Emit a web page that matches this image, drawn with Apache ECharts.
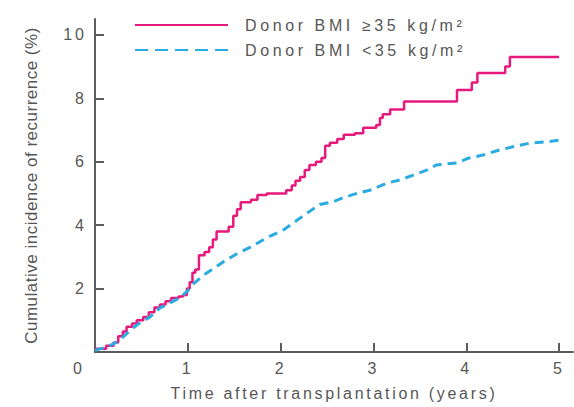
<!DOCTYPE html>
<html>
<head>
<meta charset="utf-8">
<script src="https://cdn.jsdelivr.net/npm/echarts@6/dist/echarts.min.js"></script>
<style>
  html, body { margin: 0; padding: 0; background: #ffffff; }
  #chart { width: 574px; height: 407px; }
</style>
</head>
<body>
<div id="chart"></div>
<script>
// Cumulative incidence of recurrence by donor BMI group
const seriesNames = ['Donor BMI \u226535 kg/m\u00b2', 'Donor BMI <35 kg/m\u00b2'];
const xTicks = [0, 1, 2, 3, 4, 5];
const yTicks = [2, 4, 6, 8, 10];

// Donor BMI >= 35: event times (years) and cumulative incidence (%) after each step
const highBmiTimes = [0, 0.12, 0.2, 0.25, 0.3, 0.34, 0.4, 0.45, 0.52, 0.58, 0.64, 0.7, 0.76, 0.82, 0.9, 0.95,
  0.99, 1.02, 1.05, 1.08, 1.12, 1.18, 1.23, 1.27, 1.31, 1.44, 1.49, 1.53, 1.57, 1.68, 1.75, 1.85,
  2.06, 2.12, 2.16, 2.21, 2.26, 2.31, 2.38, 2.44, 2.48, 2.53, 2.61, 2.68, 2.8, 2.89, 3.03, 3.07,
  3.1, 3.18, 3.33, 3.9, 4.06, 4.12, 4.42, 4.47, 5.0];
const highBmiValues = [0.1, 0.2, 0.3, 0.5, 0.65, 0.8, 0.9, 1.0, 1.1, 1.25, 1.4, 1.5, 1.6, 1.7, 1.75, 1.8,
  2.0, 2.2, 2.5, 2.6, 3.05, 3.15, 3.3, 3.55, 3.8, 3.95, 4.3, 4.5, 4.72, 4.8, 4.95, 5.0,
  5.1, 5.25, 5.4, 5.52, 5.74, 5.9, 6.0, 6.12, 6.5, 6.6, 6.72, 6.85, 6.9, 7.07, 7.16, 7.38,
  7.5, 7.65, 7.9, 8.26, 8.5, 8.8, 9.0, 9.3, 9.3];

// Donor BMI < 35
const lowBmiTimes = [0, 0.13, 0.24, 0.3, 0.38, 0.48, 0.59, 0.7, 0.81, 0.92, 0.99, 1.06, 1.16, 1.38, 1.53,
  1.67, 1.85, 2.03, 2.18, 2.32, 2.42, 2.56, 2.67, 2.82, 2.96, 3.15, 3.29, 3.43, 3.58, 3.68, 3.9,
  4.01, 4.18, 4.36, 4.5, 4.69, 4.87, 5.01];
const lowBmiValues = [0.05, 0.16, 0.32, 0.47, 0.69, 0.91, 1.1, 1.39, 1.55, 1.72, 1.9, 2.15, 2.4, 2.84, 3.1,
  3.3, 3.6, 3.85, 4.16, 4.45, 4.65, 4.73, 4.86, 5.0, 5.1, 5.33, 5.43, 5.58, 5.74, 5.9, 5.96,
  6.1, 6.21, 6.37, 6.47, 6.59, 6.63, 6.68];

const pink = '#e8197d';
const blue = '#2aace2';
const axisColor = '#5c5c5c';
const textColor = '#575757';
const fontFamily = '"Liberation Sans", Arial, sans-serif';

const pairs = (xs, ys) => xs.map((x, i) => [x, ys[i]]);

const chart = echarts.init(document.getElementById('chart'), null, { renderer: 'svg' });

chart.setOption({
  animation: false,
  grid: { left: 95, right: 1, top: 19, bottom: 55 },
  legend: {
    orient: 'vertical',
    left: 129,
    top: 12,
    itemWidth: 93,
    itemHeight: 14,
    itemGap: 9,
    selectedMode: false,
    data: [
      { name: seriesNames[0] },
      { name: seriesNames[1], lineStyle: { type: [13, 7] } }
    ],
    itemStyle: { opacity: 0 },
    formatter: name => '{t|' + name + '}',
    textStyle: {
      color: textColor,
      fontFamily: fontFamily,
      fontSize: 16,
      rich: { t: { color: textColor, fontFamily: fontFamily, fontSize: 16, padding: [0, 0, 0, 12] } }
    }
  },
  xAxis: {
    type: 'value',
    min: 0,
    max: 5.15,
    splitLine: { show: false },
    axisLine: { show: true, lineStyle: { color: axisColor, width: 2 } },
    axisTick: { show: true, inside: true, length: 9, customValues: [1, 2, 3, 4, 5],
      lineStyle: { color: axisColor, width: 2 } },
    axisLabel: {
      customValues: xTicks,
      margin: 8,
      color: textColor,
      fontFamily: fontFamily,
      fontSize: 16,
      formatter: v => (v === 0 ? '{z|0}' : String(v)),
      rich: { z: { color: textColor, fontFamily: fontFamily, fontSize: 16, padding: [0, 32, 0, 0] } }
    },
    name: 'Time after transplantation (years)',
    nameLocation: 'middle',
    nameGap: 33,
    nameTextStyle: { color: textColor, fontFamily: fontFamily, fontSize: 16 }
  },
  yAxis: {
    type: 'value',
    min: 0,
    max: 10.5,
    splitLine: { show: false },
    axisLine: { show: true, lineStyle: { color: axisColor, width: 2 } },
    axisTick: { show: true, inside: true, length: 9, customValues: yTicks,
      lineStyle: { color: axisColor, width: 2 } },
    axisLabel: {
      customValues: yTicks,
      margin: 8,
      color: textColor,
      fontFamily: fontFamily,
      fontSize: 16
    },
    name: 'Cumulative incidence of recurrence (%)',
    nameLocation: 'middle',
    nameGap: 55,
    nameTextStyle: { color: textColor, fontFamily: fontFamily, fontSize: 17 }
  },
  series: [
    {
      name: seriesNames[0],
      type: 'line',
      step: 'end',
      symbol: 'none',
      data: pairs(highBmiTimes, highBmiValues),
      lineStyle: { color: pink, width: 2.5 },
      itemStyle: { color: pink }
    },
    {
      name: seriesNames[1],
      type: 'line',
      symbol: 'none',
      data: pairs(lowBmiTimes, lowBmiValues),
      lineStyle: { color: blue, width: 3, type: [9, 6] },
      itemStyle: { color: blue }
    }
  ]
});

// Wide typesetting for the chart's lettering
function spaceLetters() {
  document.querySelectorAll('#chart svg text').forEach(t => {
    const s = t.textContent || '';
    let ls = 0;
    if (s.indexOf('Donor') === 0) ls = 3.6;
    else if (s.indexOf('Time') === 0) ls = 2.7;
    else if (s.indexOf('Cumulative') === 0) ls = 0.5;
    else if (/^\d+$/.test(s)) ls = 3;
    t.style.letterSpacing = ls + 'px';
  });
}
spaceLetters();
chart.on('finished', spaceLetters);
</script>
</body>
</html>
